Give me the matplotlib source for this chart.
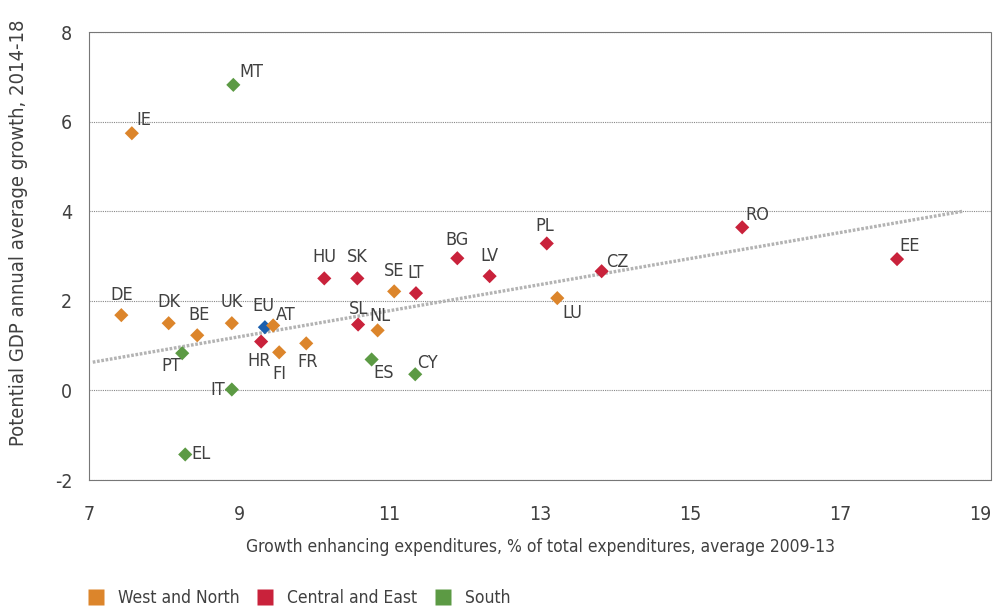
import matplotlib
matplotlib.use("Agg")
import matplotlib.pyplot as plt
from matplotlib.lines import Line2D

plt.rcParams["font.family"] = ["DejaVu Sans"]
plt.rcParams["font.stretch"] = "condensed"
plt.rcParams["axes.unicode_minus"] = False
plt.rcParams["xtick.major.pad"] = 18
plt.rcParams["ytick.major.pad"] = 12

# country, x (growth enhancing exp. %), y (potential GDP growth), group
countries = ["IE", "MT", "DE", "DK", "BE", "UK", "EU", "AT", "HR", "FI", "FR", "PT", "IT", "EL",
             "HU", "SK", "SL", "NL", "SE", "LT", "ES", "CY", "BG", "LV", "PL", "LU", "CZ", "RO", "EE"]
x_vals = [7.57, 8.92, 7.43, 8.06, 8.44, 8.90, 9.34, 9.45, 9.29, 9.53, 9.89, 8.24, 8.90, 8.28,
          10.13, 10.57, 10.58, 10.84, 11.06, 11.35, 10.76, 11.34, 11.90, 12.33, 13.09, 13.23, 13.82, 15.69, 17.75]
y_vals = [5.74, 6.82, 1.68, 1.50, 1.23, 1.50, 1.41, 1.45, 1.09, 0.85, 1.05, 0.83, 0.02, -1.43,
          2.50, 2.50, 1.47, 1.34, 2.21, 2.17, 0.69, 0.36, 2.95, 2.55, 3.28, 2.06, 2.66, 3.64, 2.93]
groups = ["WN", "S", "WN", "WN", "WN", "WN", "EU", "WN", "CE", "WN", "WN", "S", "S", "S",
          "CE", "CE", "CE", "WN", "WN", "CE", "S", "S", "CE", "CE", "CE", "WN", "CE", "CE", "CE"]

trend_x = [7.05, 18.63]
trend_y = [0.63, 4.00]

colors = {"WN": "#dc852b", "CE": "#c9223b", "S": "#5c9a44", "EU": "#1b5fae"}
legend_names = [("WN", "West and North"), ("CE", "Central and East"), ("S", "South")]

# label offsets in pixels (dx right, dy up)
offsets = {
    "IE": (12, 13), "MT": (18, 13), "DE": (0, 20), "DK": (0, 21), "BE": (2, 20),
    "UK": (0, 21), "EU": (-2, 21), "AT": (13, 10), "HR": (-2, -19), "FI": (0, -22),
    "FR": (1, -19), "PT": (-11, -13), "IT": (-14, 0), "EL": (16, 0), "HU": (0, 21),
    "SK": (0, 21), "SL": (0, 16), "NL": (2, 14), "SE": (0, 20), "LT": (0, 20),
    "ES": (12, -14), "CY": (12, 11), "BG": (0, 18), "LV": (0, 20), "PL": (-2, 17),
    "LU": (15, -15), "CZ": (16, 9), "RO": (15, 12), "EE": (13, 13),
}

TXT = "#404040"

fig = plt.figure(figsize=(9.98, 6.10), dpi=100)
ax = fig.add_axes([89 / 998, 1 - 480 / 610, (991 - 89) / 998, (480 - 32) / 610])

ax.set_xlim(7, 19)
ax.set_ylim(-2, 8)
ax.set_xticks(range(7, 20, 2))
ax.set_yticks(range(-2, 9, 2))

for s in ax.spines.values():
    s.set_linestyle((0, (1, 1)))
    s.set_color("#777777")
    s.set_linewidth(0.8)
ax.yaxis.grid(True, linestyle=(0, (1, 1)), color="#888888", linewidth=0.8)
ax.set_axisbelow(True)
ax.tick_params(length=0, labelsize=14, colors=TXT)

# keep the last x tick label inside the figure
ax.get_xticklabels()[-1].set_horizontalalignment("right")

ax.plot(trend_x, trend_y, linestyle=(0, (0.8, 0.5)), color="#b3b3b3", linewidth=2.4, zorder=2)

for c, x, y, g in zip(countries, x_vals, y_vals, groups):
    ax.scatter(x, y, marker="D", s=52, color=colors[g], edgecolors="none", zorder=3)
    dx, dy = offsets[c]
    ax.annotate(c, (x, y), xytext=(dx * 0.72, dy * 0.72), textcoords="offset points",
                ha="center", va="center", fontsize=13, color=TXT, zorder=4)

ax.set_xlabel("Growth enhancing expenditures, % of total expenditures, average 2009-13",
              fontsize=12.5, color=TXT, labelpad=10)
ax.set_ylabel("Potential GDP annual average growth, 2014-18", fontsize=14.5, color=TXT)
ax.yaxis.set_label_coords(-0.068, 0.551)

handles = [Line2D([0], [0], marker="s", linestyle="none", markersize=11.5,
                  markerfacecolor=colors[k], markeredgecolor="none") for k, _ in legend_names]
fig.legend(handles, [n for _, n in legend_names], loc="center left", bbox_to_anchor=(0.087, 0.02),
           ncol=3, frameon=False, fontsize=12.5, handlelength=1.0, handletextpad=0.8,
           columnspacing=0.95, labelcolor=TXT, borderaxespad=0, borderpad=0)

fig.savefig("out.png", dpi=100)
